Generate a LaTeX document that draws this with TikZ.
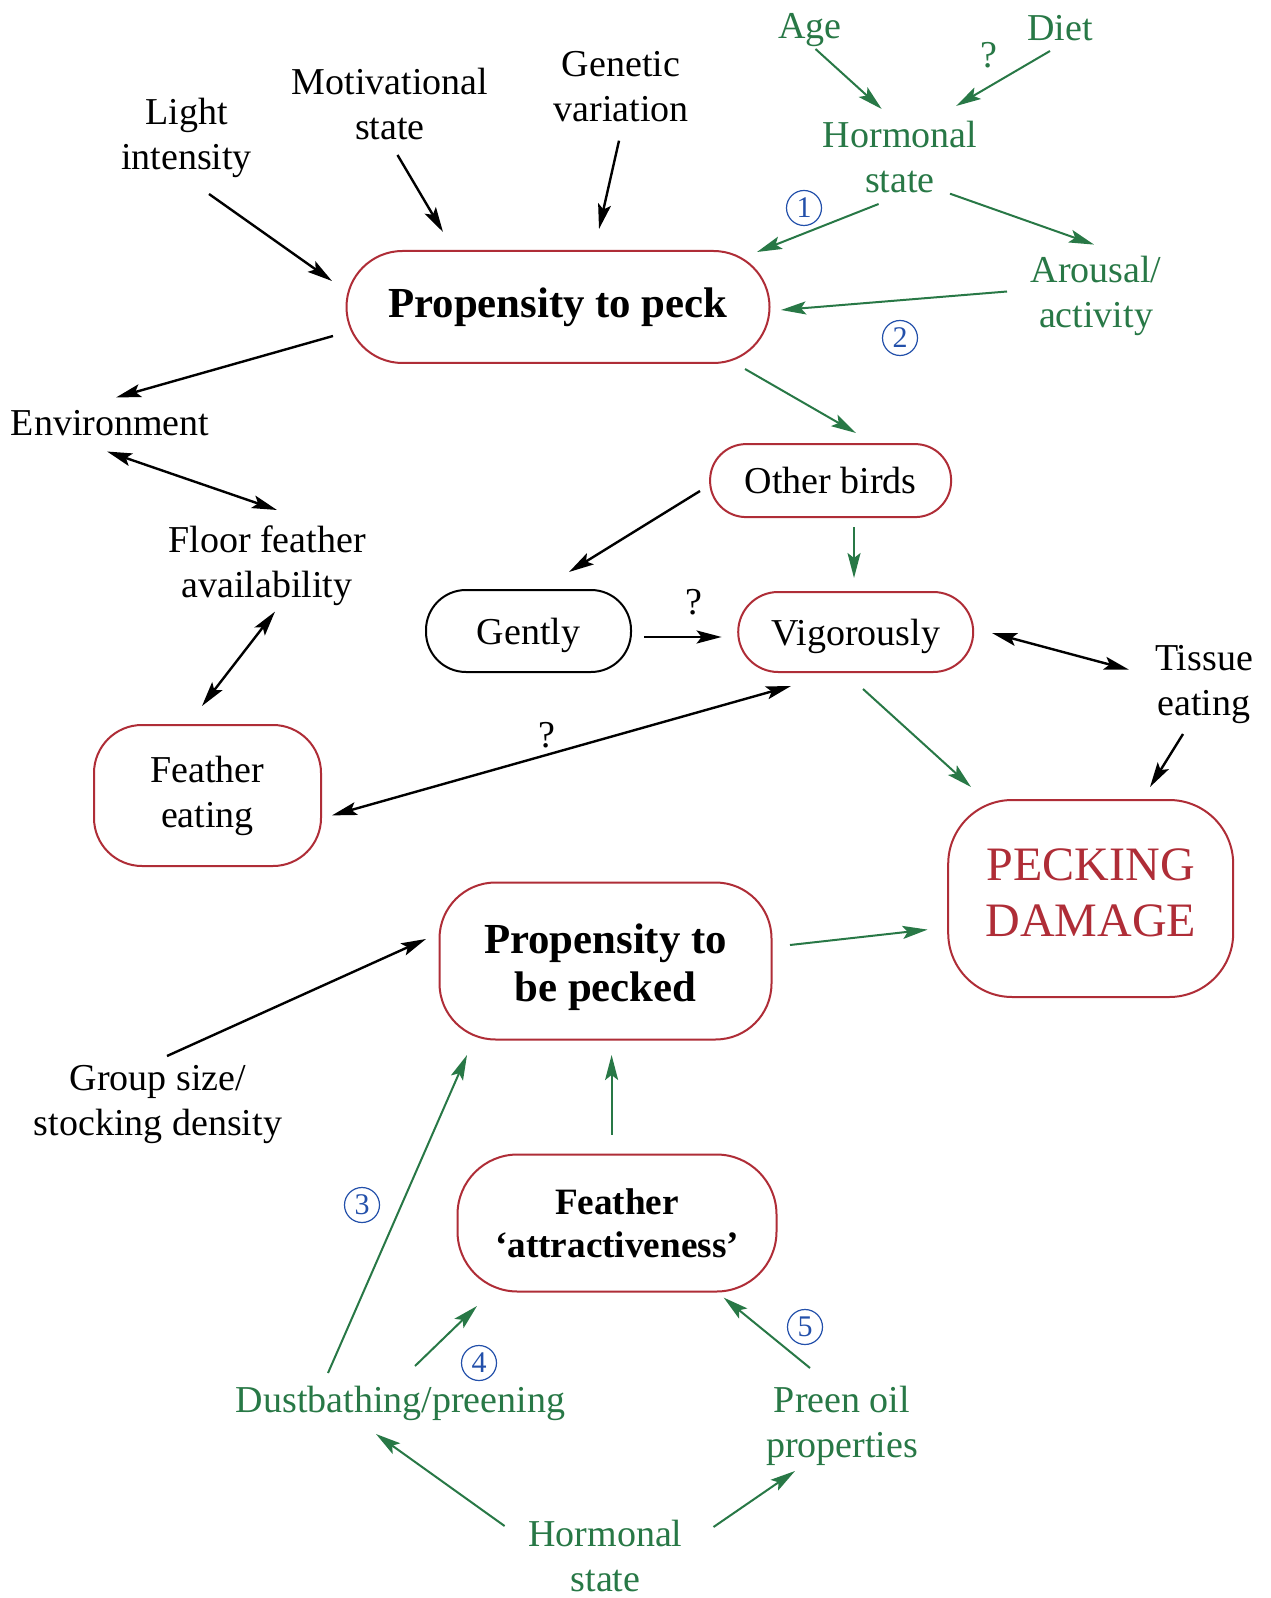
\documentclass[tikz,border=0pt]{standalone}
\usepackage{fontspec}
\setmainfont{Liberation Serif}
\usetikzlibrary{arrows.meta,calc}
\definecolor{dgreen}{RGB}{40,120,70}
\definecolor{dred}{RGB}{175,45,55}
\definecolor{cblue}{RGB}{35,80,170}
\begin{document}
\begin{tikzpicture}[x=0.5pt,y=-0.5pt,
  txt/.style={font=\fontsize{19}{22.5}\selectfont, align=center, inner sep=0pt},
  gtxt/.style={txt, text=dgreen},
  box/.style={draw=dred, line width=1pt, align=center, inner sep=0pt},
  num/.style={circle, draw=cblue, text=cblue, line width=0.6pt, minimum size=17.5pt, inner sep=0pt, font=\fontsize{15}{15}\selectfont},
  tip/.style={-{Stealth[length=12.5pt,width=6.5pt,inset=2.5pt]}},
  dtip/.style={{Stealth[length=12.5pt,width=6.5pt,inset=2.5pt]}-{Stealth[length=12.5pt,width=6.5pt,inset=2.5pt]}},
  barr/.style={line width=1.2pt, black, tip},
  garr/.style={line width=1pt, dgreen, tip},
  bdarr/.style={line width=1.2pt, black, dtip}
]
\fill[white] (0,0) rectangle (1270,1598);
\useasboundingbox (0,0) rectangle (1270,1598);

% text nodes
\node[txt] (light) at (186.5,138) {Light\\intensity};
\node[txt] (motiv) at (390,104) {Motivational\\state};
\node[txt] (genet) at (621,87) {Genetic\\variation};
\node[gtxt] (age) at (810,30) {Age};
\node[gtxt] (diet) at (1060,28.5) {Diet};
\node[gtxt] (q1) at (989,55) {?};
\node[gtxt] (horm) at (900,157) {Hormonal\\state};
\node[gtxt] (arous) at (1096,296) {Arousal/\\activity};
\node[txt] (env) at (110,423) {Environment};
\node[txt] (floor) at (267,566) {Floor feather\\availability};
\node[txt] (tissue) at (1204,684.5) {Tissue\\eating};
\node[txt] (group) at (158,1105) {Group size/\\stocking density};
\node[gtxt] (dust) at (400.6,1403.5) {Dustbathing/preening};
\node[gtxt] (preen) at (842,1425.5) {Preen oil\\properties};
\node[gtxt] (hormb) at (605.5,1556) {Hormonal\\state};
\node[txt] (q2) at (694,602) {?};
\node[txt] (q3) at (547,735) {?};

% boxes
\node[box, rounded corners=28pt, minimum width=211.5pt, minimum height=56pt,
  font=\fontsize{21.4}{24}\selectfont\bfseries] (prop) at (558,307) {Propensity to peck};
\node[box, rounded corners=18pt, minimum width=120.5pt, minimum height=36.5pt, txt, text depth=0pt] (other) at (830.6,480.6) {Other birds};
\node[box, draw=black, rounded corners=20pt, minimum width=102.5pt, minimum height=41pt, txt, text depth=0pt] (gently) at (528.5,631) {Gently};
\node[box, rounded corners=20pt, minimum width=117.5pt, minimum height=40pt, txt, text depth=0pt] (vig) at (855.7,632) {Vigorously};
\node[box, rounded corners=24pt, minimum width=113.5pt, minimum height=70.5pt, txt] (feat) at (207.5,795.5) {Feather\\eating};
\node[box, rounded corners=32pt, minimum width=142.5pt, minimum height=98.5pt, text=dred,
  font=\fontsize{24}{28}\selectfont] (peck) at (1090.7,898.5) {PECKING\\DAMAGE\rule[-6pt]{0pt}{0pt}};
\node[box, rounded corners=28pt, minimum width=166pt, minimum height=78.5pt,
  font=\fontsize{21.4}{24}\selectfont\bfseries] (probe) at (605.5,961) {\rule{0pt}{21.5pt}Propensity to\\be pecked};
\node[box, rounded corners=30pt, minimum width=159.5pt, minimum height=68.5pt,
  font=\fontsize{18.6}{21.4}\selectfont\bfseries] (attr) at (617,1223) {Feather\\‘attractiveness’};

% circled numbers
\node[num] (n1) at (804,208) {1};
\node[num] (n2) at (900,338) {2};
\node[num] (n3) at (362,1205) {3};
\node[num] (n4) at (479,1363) {4};
\node[num] (n5) at (805,1327) {5};

% arrows
\draw[barr] ($(light)+(22.5,56)$) -- ($(prop)+(-226,-26)$);
\draw[barr] ($(motiv)+(7.5,51)$) -- ($(prop)+(-115,-75)$);
\draw[barr] ($(genet)+(-2,53.7)$) -- ($(prop)+(41,-78)$);
\draw[garr] ($(age)+(5.5,19)$) -- ($(horm)+(-18.3,-48)$);
\draw[garr] ($(diet)+(-10,22.5)$) -- ($(horm)+(56,-51)$);
\draw[garr] ($(horm)+(-21.4,47)$) -- ($(prop)+(199,-55)$);
\draw[garr] ($(horm)+(50,36.7)$) -- ($(arous)+(-2,-51.4)$);
\draw[garr] ($(arous)+(-89,-4.5)$) -- ($(prop)+(223,3)$);
\draw[barr] ($(prop)+(-225,29)$) -- ($(env)+(6,-25.5)$);
\draw[garr] ($(prop)+(187,62)$) -- ($(other)+(25.4,-47.6)$);
\draw[bdarr] ($(env)+(-3,28.5)$) -- ($(floor)+(10,-56)$);
\draw[barr] ($(other)+(-130.6,10.4)$) -- ($(gently)+(40.5,-59)$);
\draw[garr] ($(other)+(23.4,46.4)$) -- ($(vig)+(-1.7,-54)$);
\draw[barr] ($(gently)+(115.5,6)$) -- ($(vig)+(-134.1,5)$);
\draw[bdarr] ($(floor)+(8,45.6)$) -- ($(feat)+(-5.5,-89.5)$);
\draw[bdarr] ($(feat)+(124.5,19.9)$) -- ($(vig)+(-64.7,54)$);
\draw[bdarr] ($(vig)+(136.3,1)$) -- ($(tissue)+(-75,-14.8)$);
\draw[barr] ($(tissue)+(-21,49.5)$) -- ($(peck)+(59.3,-111.5)$);
\draw[garr] ($(vig)+(7.3,57)$) -- ($(peck)+(-119.7,-111.5)$);
\draw[garr] ($(probe)+(184.5,-16)$) -- ($(peck)+(-163.1,31.1)$);
\draw[barr] ($(group)+(9,-49)$) -- ($(probe)+(-179.5,-22)$);
\draw[garr] ($(dust)+(-72.6,-30.5)$) -- ($(probe)+(-138.5,94)$);
\draw[garr] ($(attr)+(-5.4,-88.5)$) -- ($(probe)+(6.1,94)$);
\draw[garr] ($(dust)+(14.4,-37.5)$) -- ($(attr)+(-140,83)$);
\draw[garr] ($(preen)+(-32,-57.5)$) -- ($(attr)+(106.7,74.6)$);
\draw[garr] ($(hormb)+(-100.9,-30)$) -- ($(dust)+(-24.6,30.5)$);
\draw[garr] ($(hormb)+(108,-29)$) -- ($(preen)+(-47,45.5)$);
\end{tikzpicture}
\end{document}
